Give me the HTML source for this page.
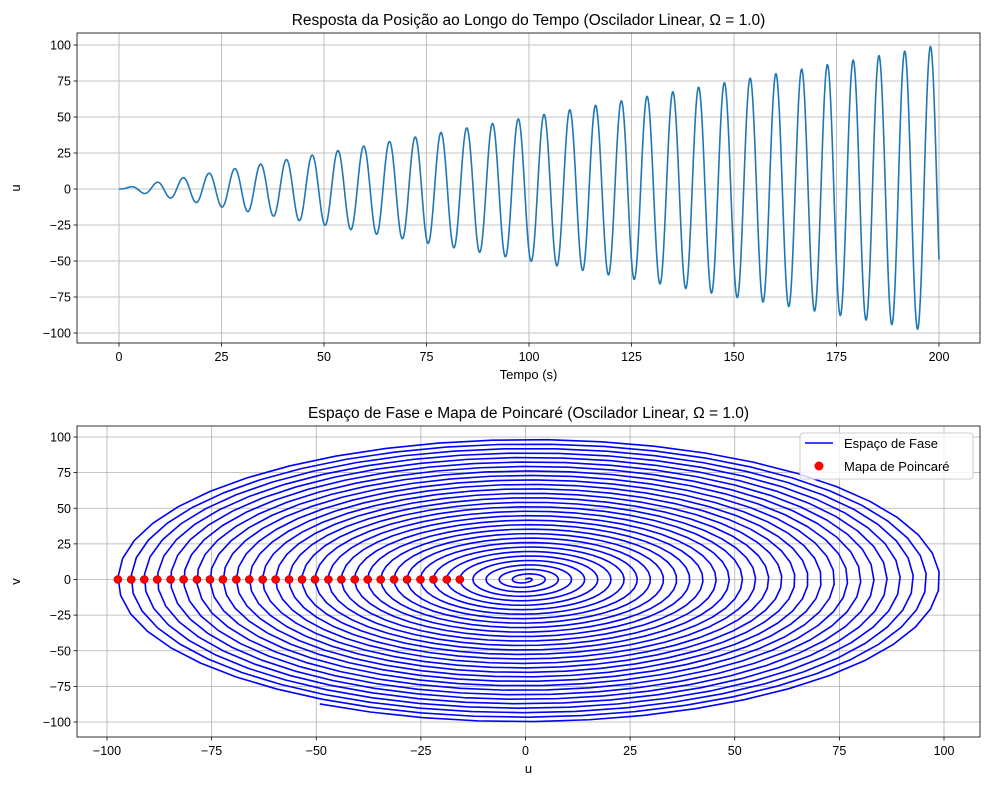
<!DOCTYPE html>
<html><head><meta charset="utf-8">
<style>
html,body{margin:0;padding:0;background:#fff;}
svg{display:block;font-family:"Liberation Sans","DejaVu Sans",sans-serif;}
</style></head>
<body>
<svg id="fig" width="989" height="790" xmlns="http://www.w3.org/2000/svg">
  <rect width="989" height="790" fill="#fff"/>
  <g id="top"></g>
  <g id="bot"></g>
</svg>
<script>
// ---- data ----
const forcingAmplitude = [1.0];
const forcingFrequency = [1.0];
const timeSpan = [0, 200];
const sampleCount = [1500];
const poincareU = [-15.7,-18.8,-22.0,-25.1,-28.3,-31.4,-34.6,-37.7,-40.8,-44.0,-47.1,-50.3,-53.4,-56.5,-59.7,-62.8,-66.0,-69.1,-72.3,-75.4,-78.5,-81.7,-84.8,-88.0,-91.1,-94.2,-97.4];
const poincareV = [0,0,0,0,0,0,0,0,0,0,0,0,0,0,0,0,0,0,0,0,0,0,0,0,0,0,0];
const topXTicks = [0,25,50,75,100,125,150,175,200];
const topYTicks = [-100,-75,-50,-25,0,25,50,75,100];
const botXTicks = [-100,-75,-50,-25,0,25,50,75,100];
const botYTicks = [-100,-75,-50,-25,0,25,50,75,100];

// trajectory (resonant linear oscillator, zero initial conditions)
const T=[],U=[],V=[];
const F=forcingAmplitude[0], W=forcingFrequency[0];
for(let i=0;i<sampleCount[0];i++){
  const t=timeSpan[0]+(timeSpan[1]-timeSpan[0])*i/(sampleCount[0]-1);
  T.push(t);
  U.push(F/(2*W*W)*(Math.sin(W*t)-W*t*Math.cos(W*t)));
  V.push(F/(2*W)*t*Math.sin(W*t));
}

const NS="http://www.w3.org/2000/svg";
function mk(parent,tag,attrs,text){
  const e=document.createElementNS(NS,tag);
  for(const k in attrs)e.setAttribute(k,attrs[k]);
  if(text!==undefined)e.textContent=text;
  parent.appendChild(e);return e;
}
function scale(d0,d1,p0,p1){return v=>p0+(v-d0)*(p1-p0)/(d1-d0);}
function fmt(v){return String(v).replace('-','\u2212');}

function axes(g,box,sx,sy,xt,yt,prefix){
  xt.forEach(v=>{const x=sx(v);
    const l=mk(g,'line',{x1:x,x2:x,y1:box.t,y2:box.b,stroke:'#b0b0b0','stroke-width':0.8});
    
    });
  yt.forEach(v=>{const y=sy(v);
    const l=mk(g,'line',{x1:box.l,x2:box.r,y1:y,y2:y,stroke:'#b0b0b0','stroke-width':0.8});
    
    });
}
function frame(g,box,sx,sy,xt,yt,title,xl,yl,prefix){
  const f=mk(g,'rect',{x:box.l,y:box.t,width:box.r-box.l,height:box.b-box.t,fill:'none',stroke:'#000','stroke-width':0.8});
  
  
  xt.forEach(v=>{const x=sx(v);
    mk(g,'line',{x1:x,x2:x,y1:box.b,y2:box.b+3.5,stroke:'#000','stroke-width':0.8});
    const t=mk(g,'text',{x:x,y:box.b+18,'text-anchor':'middle','font-size':'12.5px',fill:'#000'},fmt(v));
    
    });
  yt.forEach(v=>{const y=sy(v);
    mk(g,'line',{x1:box.l-3.5,x2:box.l,y1:y,y2:y,stroke:'#000','stroke-width':0.8});
    const t=mk(g,'text',{x:box.l-6,y:y+4.5,'text-anchor':'end','font-size':'12.5px',fill:'#000'},fmt(v));
    
    });
  const ti=mk(g,'text',{x:(box.l+box.r)/2,y:box.t-8,'text-anchor':'middle','font-size':'15.5px',fill:'#000'},title);
  
  
  const xa=mk(g,'text',{x:(box.l+box.r)/2,y:box.b+36,'text-anchor':'middle','font-size':'13px',fill:'#000'},xl);
  
  
  const yx=box.l-57, yy=(box.t+box.b)/2;
  const ya=mk(g,'text',{x:yx,y:yy,'text-anchor':'middle','font-size':'13px',fill:'#000',transform:`rotate(-90 ${yx} ${yy})`},yl);
  
  
}

// ---- top chart ----
const g1=document.getElementById('top');
const b1={l:77,r:980,t:33,b:343};
const sx1=scale(0,200,119,939), sy1=scale(0,100,189,45);
axes(g1,b1,sx1,sy1,topXTicks,topYTicks,'top');
let d='';T.forEach((t,i)=>{d+=(i?'L':'M')+sx1(t).toFixed(2)+' '+sy1(U[i]).toFixed(2);});
const p1=mk(g1,'path',{d:d,fill:'none',stroke:'#1f77b4','stroke-width':1.6,'stroke-linejoin':'round'});


frame(g1,b1,sx1,sy1,topXTicks,topYTicks,'Resposta da Posição ao Longo do Tempo (Oscilador Linear, Ω = 1.0)','Tempo (s)','u','top');

// ---- bottom chart ----
const g2=document.getElementById('bot');
const b2={l:77,r:980,t:426,b:737};
const sx2=scale(-100,100,107,944), sy2=scale(0,100,579.5,437);
axes(g2,b2,sx2,sy2,botXTicks,botYTicks,'bottom');
let d2='';U.forEach((u,i)=>{d2+=(i?'L':'M')+sx2(u).toFixed(2)+' '+sy2(V[i]).toFixed(2);});
const p2=mk(g2,'path',{d:d2,fill:'none',stroke:'#0000ff','stroke-width':1.6,'stroke-linejoin':'round'});


poincareU.forEach((u,i)=>{
  const c=mk(g2,'circle',{cx:sx2(u),cy:sy2(poincareV[i]),r:4,fill:'#ff0000',stroke:'#b00000','stroke-width':0.6});
  
  
});
frame(g2,b2,sx2,sy2,botXTicks,botYTicks,'Espaço de Fase e Mapa de Poincaré (Oscilador Linear, Ω = 1.0)','u','v','bottom');

// legend
const lg=mk(g2,'g',{});


mk(lg,'rect',{x:800,y:433,width:173,height:46,rx:3,fill:'#fff','fill-opacity':0.8,stroke:'#ccc','stroke-width':1});
mk(lg,'line',{x1:805,x2:833,y1:443,y2:443,stroke:'#0000ff','stroke-width':1.6});
const l1=mk(lg,'text',{x:844,y:448,'font-size':'13px',fill:'#000'},'Espaço de Fase');


mk(lg,'circle',{cx:819,cy:466,r:4.5,fill:'#ff0000'});
const l2=mk(lg,'text',{x:844,y:471,'font-size':'13px',fill:'#000'},'Mapa de Poincaré');


</script>
</body></html>
